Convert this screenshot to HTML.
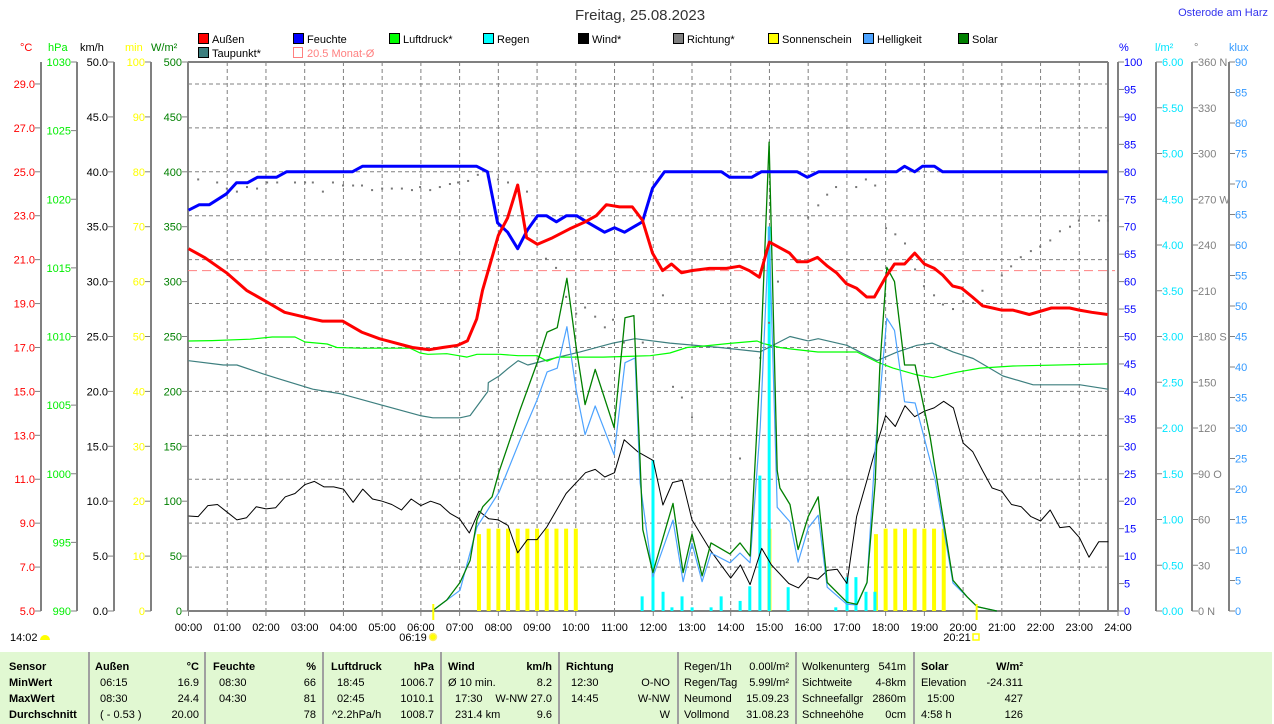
<!DOCTYPE html>
<html><head><meta charset="utf-8"><style>
html,body{margin:0;padding:0;background:#fff;}
svg{display:block;font-family:"Liberation Sans",sans-serif;}
</style></head><body>
<svg id="chart" width="1274" height="724" viewBox="0 0 1274 724" xmlns="http://www.w3.org/2000/svg">
<text x="640" y="20" font-size="15" fill="#333" text-anchor="middle">Freitag, 25.08.2023</text>
<text x="1268" y="16" font-size="11" fill="#3333ee" text-anchor="end">Osterode am Harz</text>
<g id="legend" font-size="11"></g>
<g id="axes" font-size="11"></g>
<g id="plot"></g>
<g id="table" font-size="11"></g>
</svg>
<script>
const redT=[0,.41,.98,1.5,2,2.48,3.2,3.46,3.98,4.47,4.93,5.78,6.22,6.56,6.95,7.2,7.44,7.59,7.82,8.0,8.24,8.5,8.73,9.01,9.4,9.84,10.22,10.53,10.79,11.13,11.46,11.72,11.98,12.24,12.47,12.73,12.99,13.45,13.89,14.23,14.48,14.74,15.0,15.52,15.72,15.98,16.24,16.5,16.73,16.99,17.25,17.51,17.71,18.0,18.23,18.49,18.75,19.0,19.26,19.47,19.73,19.96,20.24,20.5,20.76,20.99,21.28,21.71,22.28,22.75,23.0,23.32,23.73];
const redV=[21.5,21.1,20.4,19.6,19.1,18.6,18.3,18.2,18.2,17.7,17.4,17.0,16.9,17.0,17.1,17.3,18.3,19.6,21.0,22.1,22.9,24.4,22.0,21.7,22.0,22.4,22.7,23.0,23.5,23.4,23.4,22.8,21.3,20.5,20.8,20.4,20.5,20.6,20.6,20.7,20.5,20.2,21.8,21.3,20.9,20.9,21.1,20.7,20.4,19.9,19.7,19.3,19.3,20.2,20.8,20.8,21.3,20.8,20.6,20.3,19.8,19.7,19.3,18.9,18.8,18.7,18.7,18.5,18.8,18.8,18.7,18.6,18.5];
const humT=[0,.28,.54,.98,1.24,1.52,1.78,2.27,2.53,4.23,4.49,7.44,7.72,7.98,8.24,8.5,8.75,9.01,9.24,9.5,9.76,10.02,10.28,10.74,11.0,11.26,11.72,11.98,12.29,13.76,13.97,14.54,14.79,15.72,15.98,16.27,18.28,18.49,18.75,18.95,19.26,19.47,23.73];
const humV=[73,74,74,76,78,78,79,79,80,80,81,81,80,70.7,69,66,69.4,72,72,70.9,72,72,70.9,69,69.8,69,70.9,77,80,80,79,79,80,80,79,80,80,81,80,81,81,80,80];
const presT=[0,.61,1.59,2.16,2.75,3.01,3.58,3.83,4.43,5.72,5.98,6.18,6.67,6.98,7.19,7.45,8.04,8.51,9.0,9.26,9.52,10.71,11.92,12.43,12.87,13.28,13.98,14.68,14.83,15.27,15.53,16.25,17.26,17.78,18.19,18.81,19.22,19.84,20.44,21.29,23.74];
const presV=[1009.67,1009.7,1009.8,1009.96,1009.96,1009.6,1009.45,1009.2,1009.15,1009.15,1008.8,1008.7,1008.75,1008.6,1008.5,1008.7,1008.7,1008.6,1008.6,1008.2,1008.5,1008.5,1008.6,1008.8,1009.2,1009.3,1009.5,1009.67,1009.5,1009.2,1009.1,1008.87,1008.87,1008.14,1007.7,1007.2,1007.0,1007.4,1007.7,1007.85,1008.0];
const dewT=[0,.9,1.25,1.92,2.28,3.21,3.91,4.94,5.98,6.31,7.01,7.27,7.73,7.74,8.02,8.22,8.51,8.76,9.41,10.11,10.96,11.53,12.43,13.72,14.76,15.53,16.0,16.26,17.0,17.78,18.3,18.81,19.2,19.74,20.26,21.03,21.81,23.02,23.74];
const dewV=[16.4,16.2,16.2,15.8,15.6,15.1,14.9,14.4,13.9,13.8,13.8,13.9,15.0,15.4,15.7,16.0,16.4,16.2,16.5,16.8,17.2,17.4,17.2,17.0,16.8,17.5,17.3,17.4,17.1,16.4,16.8,17.1,17.2,16.8,16.5,15.7,15.3,15.3,15.1];
const windT=[0,.25,.5,.75,1,1.25,1.5,1.75,2,2.25,2.5,2.75,3,3.25,3.5,3.75,4,4.25,4.5,4.75,5,5.25,5.5,5.75,6,6.25,6.5,6.75,7,7.25,7.5,7.75,8,8.25,8.5,8.75,9,9.25,9.75,10.25,10.5,10.75,11,11.25,11.6,12,12.25,12.5,12.75,13,13.5,13.75,14,14.25,14.5,14.8,15.05,15.5,15.75,16,16.25,16.5,16.75,17,17.25,17.5,17.75,18,18.25,18.5,18.75,19,19.25,19.5,19.75,20,20.25,20.5,20.75,21,21.25,21.5,21.75,22,22.25,22.5,22.75,23,23.25,23.5,23.75];
const windV=[8.65,8.6,9.6,9.7,9.0,8.3,8.5,9.5,9.3,9.4,10.4,10.7,11.5,11.8,11.3,11.3,11.1,9.9,11.1,10.2,10.0,9.7,9.2,10.2,9.6,10.0,9.7,8.9,8.4,7.1,9.1,8.4,8.3,7.8,5.3,6.5,6.5,7.65,10.7,12.6,12.9,12.2,12.6,15.6,14.5,13.7,9.65,11.7,11.9,8.3,5.4,4.2,3.0,4.2,2.4,5.7,4.2,2.5,2.1,3.1,2.9,3.7,3.8,2.5,8.6,11.7,14.9,17.8,16.8,18.7,17.7,18.2,18.5,19.1,18.5,15.3,14.5,12.8,11.2,10.9,9.7,9.5,8.6,8.2,9.2,7.6,7.7,6.7,4.9,6.3,6.3];
const solarT=[6.29,6.67,7.01,7.27,7.45,7.6,7.84,8.02,8.56,9.0,9.26,9.52,9.77,10.01,10.24,10.5,10.99,11.27,11.5,11.66,11.73,11.99,12.51,12.77,13.0,13.26,13.49,13.98,14.24,14.5,14.76,14.99,15.2,15.27,15.53,15.74,16.0,16.26,16.49,17.0,17.26,17.52,17.73,17.85,18.03,18.23,18.49,18.76,19.15,19.41,19.74,20.1,20.36,20.87];
const solarV=[0,10,26,46,83,95,104,127,183,226,254,258,303,240,188,220,167,267,269,136,74,35,98,35,70,32,62,52,62,50,222,427,128,112,97,56,86,104,26,8,6,26,117,222,313,300,224,224,158,101,28,13,4,0];
const luxT=[6.29,7.01,7.45,8.02,8.56,9.0,9.26,9.52,9.77,10.01,10.24,10.5,10.99,11.27,11.53,11.66,11.99,12.51,12.77,13.0,13.26,13.49,13.98,14.24,14.5,14.76,14.99,15.2,15.53,15.74,16.0,16.26,16.49,17.0,17.26,17.52,17.73,18.03,18.23,18.49,18.76,19.28,19.74,20.36,20.87];
const luxV=[0,3.4,13.8,19.5,28,34.6,39.2,39.8,46.6,36.2,28.9,33.6,25.6,40.7,41.5,21,5.6,14.9,4.8,11.1,4.8,9.5,7.9,9.5,7.9,30,63,17,14.6,8,13.6,15.7,3.9,1.1,1.0,4.6,26.4,48,46,34.3,34.1,21.5,4.6,0.7,0];
const rainT=[11.7,11.98,12.24,12.47,12.73,12.99,13.48,13.74,14.23,14.48,14.74,14.98,15.47,16.7,16.99,17.22,17.48,17.71];
const rainV=[0.16,1.65,0.21,0.04,0.16,0.04,0.04,0.16,0.11,0.27,1.48,4.2,0.26,0.04,0.37,0.37,0.21,0.21];
const sunT=[7.5,7.75,8,8.25,8.5,8.75,9,9.25,9.5,9.75,10,15,17.75,18,18.25,18.5,18.75,19,19.25,19.5];
const sunV=[14,15,15,15,15,15,15,15,15,15,15,15,14,15,15,15,15,15,15,15];
const dirT=[.25,.74,.99,1.25,1.51,1.77,2.03,2.29,2.75,3.01,3.21,3.47,3.73,3.99,4.25,4.48,4.74,5.0,5.25,5.51,5.77,5.98,6.24,6.49,6.75,6.96,7.22,7.47,7.73,7.99,8.25,8.74,9.23,9.49,9.75,10.01,10.24,10.5,10.75,10.96,11.24,11.73,12.25,12.51,12.74,13.0,14.24,14.76,14.99,15.22,16.0,16.26,16.49,16.72,17.24,17.49,17.73,18.01,18.25,18.5,18.76,18.99,19.25,19.48,19.74,20.0,20.26,20.5,21.0,21.24,21.49,21.75,21.99,22.25,22.5,22.76,22.99,23.51,23.74];
const dirV=[283,281,277,275,278,277,281,281,281,281,281,275,281,279,279,279,276,277,277,277,276,278,276,278,280,281,282,286,285,283,281,275,231,225,206,195,199,193,186,191,176,176,207,147,140,127,100,166,189,216,258,266,273,278,278,283,279,251,247,241,224,213,207,201,198,203,202,210,220,226,232,236,239,243,249,252,256,256,256];
const monthAvg=20.5;
const hourLabels=["00:00","01:00","02:00","03:00","04:00","05:00","06:00","07:00","08:00","09:00","10:00","11:00","12:00","13:00","14:00","15:00","16:00","17:00","18:00","19:00","20:00","21:00","22:00","23:00","24:00"];

const NS="http://www.w3.org/2000/svg";
const TOP=62,BOT=611,H=BOT-TOP,X0=188.5,HX=38.73,RIGHT=1108;
const X=t=>X0+t*HX;
const yC=v=>BOT-(v-5)/25*H, yH=v=>BOT-v/100*H, yP=v=>BOT-(v-990)/40*H,
      yW=v=>BOT-v/500*H, yK=v=>BOT-v/50*H, yM=v=>BOT-v/100*H,
      yR=v=>BOT-v/6*H, yD=v=>BOT-v/360*H, yL=v=>BOT-v/90*H;
function el(parent,tag,attrs,text){const e=document.createElementNS(NS,tag);for(const k in attrs)e.setAttribute(k,attrs[k]);if(text!==undefined)e.textContent=text;parent.appendChild(e);return e;}
const axes=document.getElementById('axes'),plot=document.getElementById('plot'),leg=document.getElementById('legend'),tbl=document.getElementById('table');

for(let k=1;k<=12;k++){const y=yC(5+2*k);const g=el(plot,'line',{x1:188,x2:RIGHT,y1:y,y2:y,stroke:'#808080','stroke-dasharray':'4,3','stroke-width':1});

}
for(let h=1;h<24;h++){const x=X(h);const g=el(plot,'line',{x1:x,x2:x,y1:TOP,y2:BOT,stroke:'#808080','stroke-dasharray':'4,3','stroke-width':1});

}
const ma=el(plot,'line',{x1:188,x2:1115,y1:yC(monthAvg),y2:yC(monthAvg),stroke:'#ff8080','stroke-dasharray':'9,5','stroke-width':1});



function vAxis(x,name,color,vals,yf,fmt,side){
  const g=el(axes,'g',{});
  
  
  el(g,'line',{x1:x,x2:x,y1:TOP,y2:BOT,stroke:'#808080','stroke-width':2});
  vals.forEach(v=>{const y=yf(v);
    if(side==='L'){el(g,'line',{x1:x-6,x2:x,y1:y,y2:y,stroke:'#808080'});el(g,'text',{x:x-6,y:y+4,fill:color,'text-anchor':'end'},fmt(v));}
    else{el(g,'line',{x1:x,x2:x+6,y1:y,y2:y,stroke:'#808080'});el(g,'text',{x:x+6,y:y+4,fill:color},fmt(v));}
  });
}
const rng=(a,b,s)=>{const r=[];for(let v=a;v<=b+1e-9;v+=s)r.push(+v.toFixed(3));return r;};
vAxis(41,'celsius-axis','#ff0000',rng(5,29,2),yC,v=>v.toFixed(1),'L');
vAxis(77,'hpa-axis','#00ee00',rng(990,1030,5),yP,v=>v,'L');
vAxis(114,'kmh-axis','#000',rng(0,50,5),yK,v=>v.toFixed(1),'L');
vAxis(151,'minutes-axis','#ffff00',rng(0,100,10),yM,v=>v,'L');
vAxis(188,'wm2-axis','#008000',rng(0,500,50),yW,v=>v,'L');
vAxis(1118,'humidity-axis','#0000ff',rng(0,100,5),yH,v=>v,'R');
vAxis(1156,'rain-axis','#00e5ff',rng(0,6,.5),yR,v=>v.toFixed(2),'R');
const dirLbl={360:'360 N',270:'270 W',180:'180 S',90:'90 O',0:'0 N'};
vAxis(1192,'direction-axis','#808080',rng(0,360,30),yD,v=>dirLbl[v]||v,'R');
vAxis(1229,'klux-axis','#3399ff',rng(0,90,5),yL,v=>v,'R');
el(axes,'line',{x1:188,x2:1118,y1:BOT,y2:BOT,stroke:'#808080','stroke-width':2});
el(axes,'line',{x1:188,x2:RIGHT,y1:TOP,y2:TOP,stroke:'#808080','stroke-width':2});
el(axes,'line',{x1:RIGHT,x2:RIGHT,y1:TOP,y2:BOT,stroke:'#808080','stroke-width':2});
[['°C',20,'#ff0000'],['hPa',48,'#00ee00'],['km/h',80,'#000'],['min',125,'#ffff00'],['W/m²',151,'#008000'],['%',1119,'#0000ff'],['l/m²',1155,'#00e5ff'],['°',1194,'#808080'],['klux',1229,'#3399ff']].forEach(u=>{
  const t=el(axes,'text',{x:u[1],y:51,fill:u[2]},u[0]);
  
  
});
hourLabels.forEach((l,i)=>{const x=X(i);
  el(axes,'line',{x1:x,x2:x,y1:BOT,y2:BOT+5,stroke:'#808080'});
  const t=el(axes,'text',{x:x,y:631,'text-anchor':'middle',fill:'#000'},l);
  
  
});

sunT.forEach((t,i)=>{const b=el(plot,'rect',{x:X(t)-2,y:yM(sunV[i]),width:4,height:BOT-yM(sunV[i]),fill:'#ffff00'});

});
rainT.forEach((t,i)=>{const b=el(plot,'rect',{x:X(t)-1,y:yR(rainV[i]),width:3,height:BOT-yR(rainV[i]),fill:'#00ffff'});

});
dirT.forEach((t,i)=>{const d=el(plot,'rect',{x:X(t)-1,y:yD(dirV[i])-1,width:2,height:2,fill:'#777'});

});
function line(ts,vs,yf,color,w,name){
  const pts=ts.map((t,i)=>X(t).toFixed(1)+','+yf(vs[i]).toFixed(1)).join(' ');
  const p=el(plot,'polyline',{points:pts,fill:'none',stroke:color,'stroke-width':w,'stroke-linejoin':'round'});
  
  
}
line(dewT,dewV,yC,'#3d7f7f',1.2,'dewpoint-line');
line(presT,presV,yP,'#00ff00',1.2,'pressure-line');
line(windT,windV,yK,'#000',1,'wind-line');
line(luxT,luxV,yL,'#4da3ff',1.2,'brightness-line');
line(solarT,solarV,yW,'#008000',1.3,'solar-line');
line(humT,humV,yH,'#0000ff',3,'humidity-line');
line(redT,redV,yC,'#ff0000',3,'temperature-line');
el(plot,'line',{x1:X(6.32),x2:X(6.32),y1:604,y2:620,stroke:'#ffff00','stroke-width':2});
el(plot,'line',{x1:X(20.35),x2:X(20.35),y1:604,y2:620,stroke:'#ffff00','stroke-width':2});
const sr=el(axes,'text',{x:413,y:641,'text-anchor':'middle'},'06:19');


el(axes,'circle',{cx:433,cy:637,r:3.5,fill:'#ffff00',stroke:'#ffee66','stroke-width':1.5});
const ss=el(axes,'text',{x:957,y:641,'text-anchor':'middle'},'20:21');


el(axes,'rect',{x:973,y:634,width:6,height:6,fill:'none',stroke:'#ffff00','stroke-width':1.5});
const dl=el(axes,'text',{x:10,y:641},'14:02');


el(axes,'path',{d:'M40,640 a5,5 0 0 1 10,0 z',fill:'#ffff00'});

const legItems=[['Außen','#ff0000',198,0],['Feuchte','#0000ff',293,0],['Luftdruck*','#00ff00',389,0],['Regen','#00ffff',483,0],['Wind*','#000000',578,0],['Richtung*','#808080',673,0],['Sonnenschein','#ffff00',768,0],['Helligkeit','#4da3ff',863,0],['Solar','#008000',958,0],['Taupunkt*','#3d7f7f',198,1]];
legItems.forEach(it=>{const y=33+it[3]*14;
  const g=el(leg,'g',{});
  
  
  el(g,'rect',{x:it[2]+.5,y:y+.5,width:10,height:10,fill:it[1],stroke:'#000'});
  el(g,'text',{x:it[2]+14,y:y+10,fill:'#000'},it[0]);
});
const lm=el(leg,'g',{});


el(lm,'rect',{x:293.5,y:47.5,width:9,height:10,fill:'none',stroke:'#ff8080'});
el(lm,'text',{x:307,y:57,fill:'#ff8080'},'20.5 Monat-Ø');

const bg=el(tbl,'rect',{x:0,y:652,width:1272,height:72,fill:'#e1f8d2'});


[89,205,323,441,559,678,796,914].forEach(x=>el(tbl,'line',{x1:x,x2:x,y1:652,y2:724,stroke:'#a0a0a0','stroke-width':2}));
const rows=[670,686,702,718];
function cell(x,r,txt,anchor,bold){const t=el(tbl,'text',{x:x,y:rows[r],'text-anchor':anchor||'start','font-weight':bold?'bold':'normal',fill:'#000'},txt);

}
['Sensor','MinWert','MaxWert','Durchschnitt'].forEach((s,i)=>cell(9,i,s,'start',true));
cell(95,0,'Außen','start',true);cell(199,0,'°C','end',true);
cell(100,1,'06:15');cell(199,1,'16.9','end');cell(100,2,'08:30');cell(199,2,'24.4','end');cell(100,3,'( - 0.53 )');cell(199,3,'20.00','end');
cell(213,0,'Feuchte','start',true);cell(316,0,'%','end',true);
cell(219,1,'08:30');cell(316,1,'66','end');cell(219,2,'04:30');cell(316,2,'81','end');cell(316,3,'78','end');
cell(331,0,'Luftdruck','start',true);cell(434,0,'hPa','end',true);
cell(337,1,'18:45');cell(434,1,'1006.7','end');cell(337,2,'02:45');cell(434,2,'1010.1','end');cell(332,3,'^2.2hPa/h');cell(434,3,'1008.7','end');
cell(448,0,'Wind','start',true);cell(552,0,'km/h','end',true);
cell(448,1,'Ø 10 min.');cell(552,1,'8.2','end');cell(455,2,'17:30');cell(552,2,'W-NW 27.0','end');cell(455,3,'231.4 km');cell(552,3,'9.6','end');
cell(566,0,'Richtung','start',true);
cell(571,1,'12:30');cell(670,1,'O-NO','end');cell(571,2,'14:45');cell(670,2,'W-NW','end');cell(670,3,'W','end');
cell(684,0,'Regen/1h');cell(789,0,'0.00l/m²','end');cell(684,1,'Regen/Tag');cell(789,1,'5.99l/m²','end');
cell(684,2,'Neumond');cell(789,2,'15.09.23','end');cell(684,3,'Vollmond');cell(789,3,'31.08.23','end');
cell(802,0,'Wolkenunterg');cell(906,0,'541m','end');cell(802,1,'Sichtweite');cell(906,1,'4-8km','end');
cell(802,2,'Schneefallgr');cell(906,2,'2860m','end');cell(802,3,'Schneehöhe');cell(906,3,'0cm','end');
cell(921,0,'Solar','start',true);cell(1023,0,'W/m²','end',true);
cell(921,1,'Elevation');cell(1023,1,'-24.311','end');cell(927,2,'15:00');cell(1023,2,'427','end');cell(921,3,'4:58 h');cell(1023,3,'126','end');
</script>
</body></html>
